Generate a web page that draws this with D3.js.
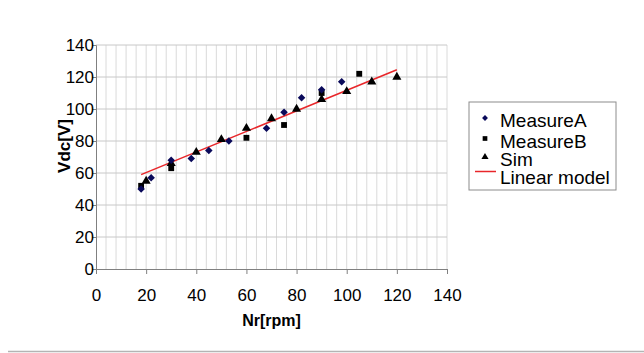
<!DOCTYPE html>
<html>
<head>
<meta charset="utf-8">
<script src="https://cdn.jsdelivr.net/npm/d3@7"></script>
<style>
  body { margin: 0; background: #fff; }
  svg { display: block; font-family: "Liberation Sans", Arial, sans-serif; }
</style>
</head>
<body>
<svg class="chart" width="644" height="353"></svg>
<script>
// values
var measureA = [[18, 50], [22, 57], [30, 68], [38, 69], [45, 74], [53, 80], [68, 88], [75, 98], [82, 107], [90, 112], [98, 117]];
var measureB = [[18, 52], [30, 63], [60, 82], [75, 90], [90, 110], [105, 122]];
var sim = [[20, 55], [30, 66], [40, 73], [50, 81], [60, 88], [70, 94], [80, 100], [90, 106], [100, 111], [110, 117], [120, 120]];
var linearModel = [[18, 59], [120, 124.5]];
var xTicks = [0, 20, 40, 60, 80, 100, 120, 140];
var yTicks = [0, 20, 40, 60, 80, 100, 120, 140];
var legendNames = ["MeasureA", "MeasureB", "Sim", "Linear model"];

var svg = d3.select(".chart");
var margin = {left: 96, top: 45, right: 197, bottom: 84};
var w = 644 - margin.left - margin.right;
var h = 353 - margin.top - margin.bottom;

var x = d3.scaleLinear().domain([0, 140]).range([0, w]);
var y = d3.scaleLinear().domain([0, 140]).range([h, 0]);

var g = svg.append("g").attr("transform", "translate(" + margin.left + "," + margin.top + ")");

// vertical minor grid every 4
g.append("g").selectAll("line").data(d3.range(4, 141, 4))
  .enter().append("line")
  .attr("x1", d => x(d)).attr("x2", d => x(d))
  .attr("y1", 0).attr("y2", h)
  .attr("stroke", "#dadada").attr("stroke-width", 1);

// horizontal grid
g.append("g").selectAll("line").data(yTicks.slice(1))
  .enter().append("line")
  .attr("x1", 0).attr("x2", w)
  .attr("y1", d => y(d)).attr("y2", d => y(d))
  .attr("stroke", "#c8c8c8").attr("stroke-width", 1);

// axes
var xAxis = d3.axisBottom(x).tickValues(xTicks).tickSize(5).tickPadding(15);
var yAxis = d3.axisLeft(y).tickValues(yTicks).tickSize(4).tickPadding(-2);

var xg = g.append("g").attr("transform", "translate(0," + h + ")").call(xAxis);
var yg = g.append("g").call(yAxis);
[xg, yg].forEach(function(a) {
  a.select(".domain").attr("stroke", "#808080");
  a.selectAll(".tick line").attr("stroke", "#808080");
  a.selectAll("text").attr("fill", "#000").style("font-size", "17px")
    .style("font-family", "Liberation Sans, Arial, sans-serif");
});

// axis titles
g.append("text").attr("x", w / 2).attr("y", h + 57)
  .attr("text-anchor", "middle").attr("font-weight", "bold")
  .style("font-size", "16px").text("Nr[rpm]");

svg.append("text").attr("transform", "translate(70,146) rotate(-90)")
  .attr("text-anchor", "middle").attr("font-weight", "bold")
  .style("font-size", "17px").text("Vdc[V]");

// linear model
var line = d3.line().x(d => x(d[0])).y(d => y(d[1]));
g.append("path").datum(linearModel).attr("d", line)
  .attr("fill", "none").attr("stroke", "#e8262a").attr("stroke-width", 1.5);

// markers
var diamond = d3.symbol().type(d3.symbolDiamond2).size(36);
var square = d3.symbol().type(d3.symbolSquare).size(34);
var triangle = d3.symbol().type(d3.symbolTriangle).size(36);

g.append("g").selectAll("path").data(sim).enter().append("path")
  .attr("d", triangle).attr("fill", "#000")
  .attr("transform", d => "translate(" + x(d[0]) + "," + y(d[1]) + ")");
g.append("g").selectAll("path").data(measureB).enter().append("path")
  .attr("d", square).attr("fill", "#000")
  .attr("transform", d => "translate(" + x(d[0]) + "," + y(d[1]) + ")");
g.append("g").selectAll("path").data(measureA).enter().append("path")
  .attr("d", diamond).attr("fill", "#0a0a5a")
  .attr("transform", d => "translate(" + x(d[0]) + "," + y(d[1]) + ")");

// legend
var lg = svg.append("g").attr("transform", "translate(469,102)");
lg.append("rect").attr("width", 147).attr("height", 88)
  .attr("fill", "#fff").attr("stroke", "#8c8c8c").attr("stroke-width", 1);
var rows = [18, 38.5, 57, 75];
var legendTypes = [d3.symbolDiamond2, d3.symbolSquare, d3.symbolTriangle];
var legendColors = ["#0a0a5a", "#000", "#000"];
legendNames.forEach(function(name, i) {
  if (i < 3) {
    lg.append("path").attr("d", d3.symbol().type(legendTypes[i]).size(22))
      .attr("fill", legendColors[i])
      .attr("transform", "translate(16," + (rows[i] - 2) + ")");
  } else {
    lg.append("line").attr("x1", 6).attr("x2", 27).attr("y1", 69.5).attr("y2", 69.5)
      .attr("stroke", "#e8262a").attr("stroke-width", 1.5);
  }
  lg.append("text").attr("x", 31).attr("y", rows[i] + 7)
    .style("font-size", "19px").text(name);
});

// bottom separator
svg.append("line").attr("x1", 8).attr("x2", 644).attr("y1", 351.5).attr("y2", 351.5)
  .attr("stroke", "#b4b4b4").attr("stroke-width", 1.5);
</script>
</body>
</html>
